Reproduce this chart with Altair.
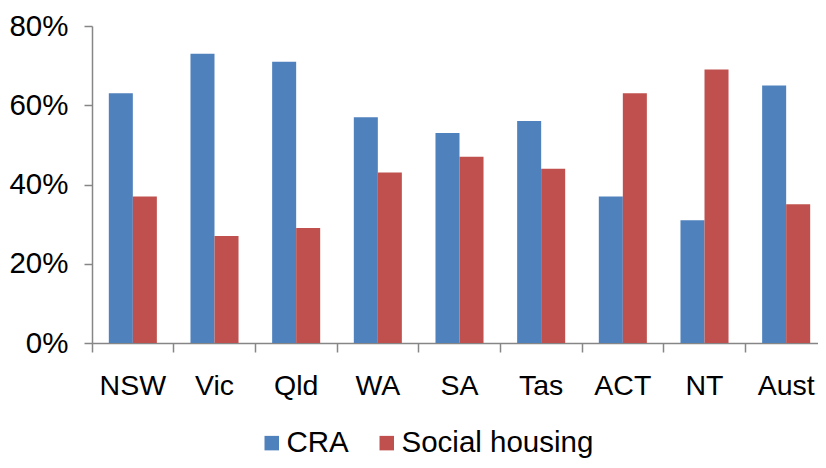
import altair as alt
import pandas as pd

states = ["NSW", "Vic", "Qld", "WA", "SA", "Tas", "ACT", "NT", "Aust"]
cra = [63, 73, 71, 57, 53, 56, 37, 31, 65]
social = [37, 27, 29, 43, 47, 44, 63, 69, 35]
series = ["CRA", "Social housing"]
colors = ["#4F81BD", "#C0504D"]

rows = []
for i, s in enumerate(states):
    rows.append({"state": s, "series": series[0], "value": cra[i]})
    rows.append({"state": s, "series": series[1], "value": social[i]})
df = pd.DataFrame(rows)

FONT = "Liberation Sans"
AX = "#868686"
FS = 28.5

chart = alt.Chart(df).mark_bar().encode(
    x=alt.X("state:N", sort=states,
            scale=alt.Scale(range=[0, 735], paddingInner=0, paddingOuter=0),
            axis=alt.Axis(title=None, labelAngle=0, bandPosition=0, tickSize=9,
                          labelPadding=19, labelFontSize=FS, labelFont=FONT,
                          labelColor="#000000", domainColor=AX, tickColor=AX,
                          domainWidth=1.5, tickWidth=1.5, labelBaseline="top",
                          labelOverlap=False, labelBound=False, labelFlush=False)),
    xOffset=alt.XOffset("series:N", sort=series,
                        scale=alt.Scale(paddingOuter=0.7, paddingInner=0)),
    y=alt.Y("value:Q", scale=alt.Scale(domain=[0, 80], nice=False),
            axis=alt.Axis(title=None, values=[0, 20, 40, 60, 80], grid=False,
                          labelExpr="datum.value + '%'", tickSize=8,
                          labelPadding=16, labelFontSize=29.5, labelFont=FONT,
                          labelColor="#000000", domainColor=AX, tickColor=AX,
                          domainWidth=1.5, tickWidth=1.5)),
    color=alt.Color("series:N", sort=series,
                    scale=alt.Scale(domain=series, range=colors),
                    legend=alt.Legend(title=None, orient="none", legendX=165,
                                      legendY=402, direction="horizontal",
                                      symbolType="square", symbolSize=210,
                                      symbolStrokeWidth=0, labelFontSize=29.5,
                                      labelFont=FONT, labelColor="#000000",
                                      labelOffset=0, columnPadding=23,
                                      labelLimit=400, padding=0)),
).properties(
    width=726, height=317,
    autosize=alt.AutoSizeParams(type="none"),
    padding={"left": 84, "top": 18, "right": 0, "bottom": 117},
).configure_view(stroke=None)

chart.save("out.html", embed_options={"renderer": "svg", "actions": False})
